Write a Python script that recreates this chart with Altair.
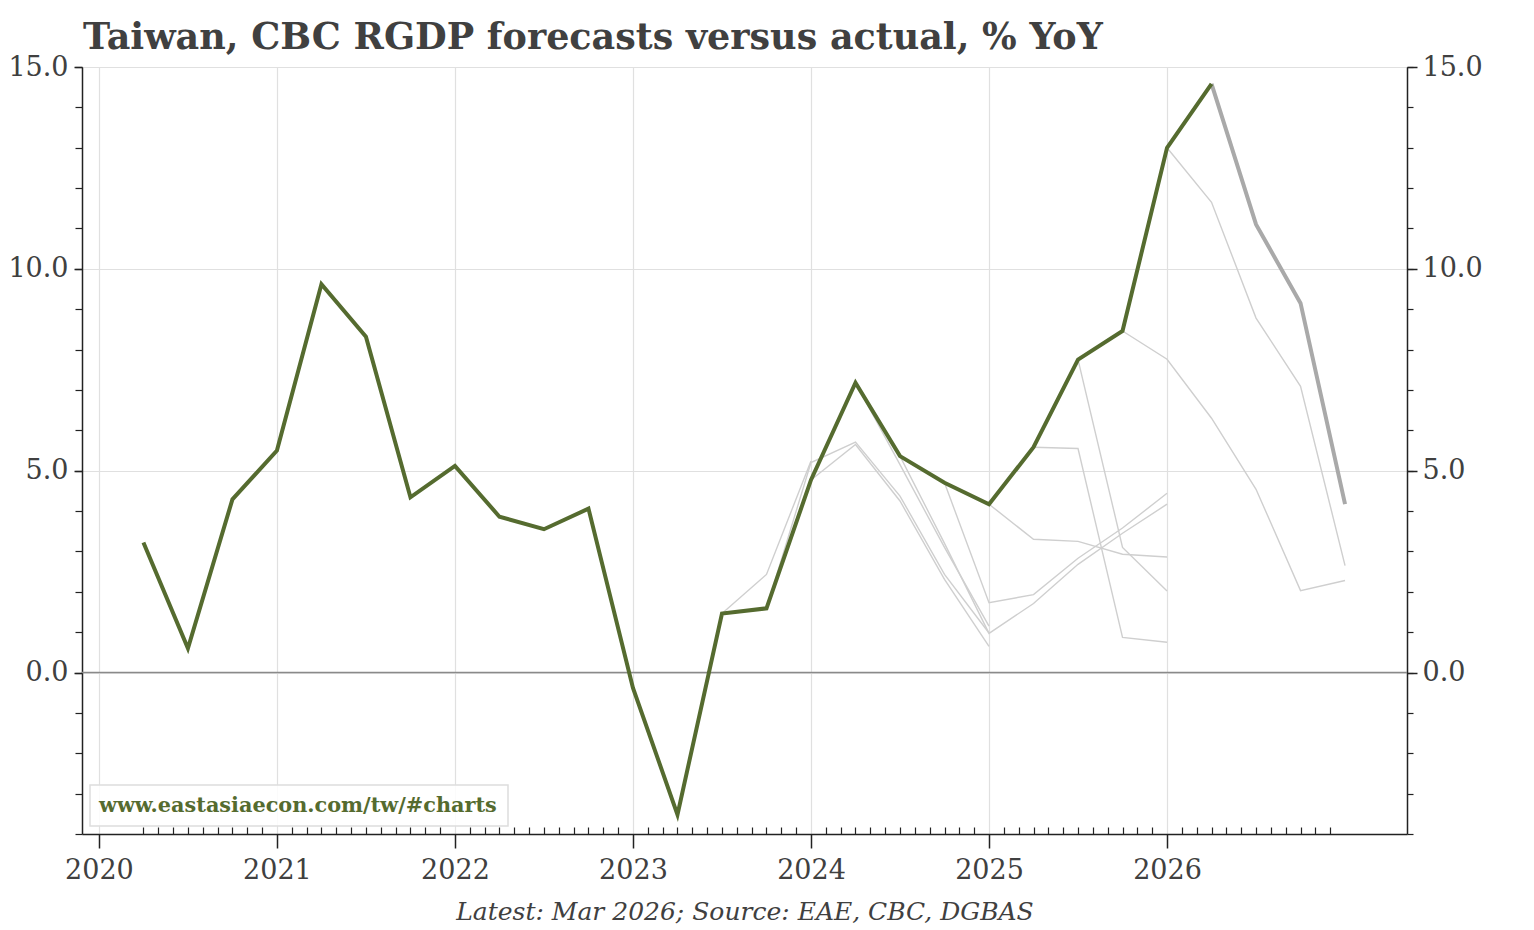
import altair as alt
import pandas as pd

# ---------------- data ----------------
actual_quarters = ["2020Q1", "2020Q2", "2020Q3", "2020Q4",
                   "2021Q1", "2021Q2", "2021Q3", "2021Q4",
                   "2022Q1", "2022Q2", "2022Q3", "2022Q4",
                   "2023Q1", "2023Q2", "2023Q3", "2023Q4",
                   "2024Q1", "2024Q2", "2024Q3", "2024Q4",
                   "2025Q1", "2025Q2", "2025Q3", "2025Q4",
                   "2026Q1"]
actual_values = [3.22, 0.60, 4.29, 5.50,
                 9.62, 8.32, 4.34, 5.12,
                 3.86, 3.55, 4.06, -0.38,
                 -3.52, 1.46, 1.59, 4.77,
                 7.18, 5.36, 4.70, 4.17,
                 5.58, 7.75, 8.46, 13.00,
                 14.58]

# CBC forecast vintages: first value = last actual at time of forecast
fc_2023q2 = [1.46, 2.43, 5.24]
fc_2023q3 = [1.59, 5.20, 5.71, 4.37, 2.43, 0.98]
fc_2023q4 = [4.77, 5.65, 4.25, 2.31, 0.65]
fc_2024q1 = [7.18, 5.15, 3.10, 1.15]
fc_2024q2 = [5.36, 3.20, 0.97, 1.71, 2.68, 3.45, 4.17]
fc_2024q3 = [4.70, 1.73, 1.93, 2.83, 3.58, 4.44]
fc_2024q4 = [4.17, 3.30, 3.25, 2.93, 2.86]
fc_2025q1 = [5.58, 5.55, 0.87, 0.75]
fc_2025q2 = [7.75, 3.10, 2.02]
fc_2025q3 = [8.46, 7.76, 6.30, 4.54, 2.03, 2.28]
fc_2025q4 = [13.00, 11.65, 8.78, 7.09, 2.65]
fc_latest = [14.58, 11.10, 9.15, 4.17]          # latest vintage, from 2026Q1

fc_starts = ["2023Q2", "2023Q3", "2023Q4", "2024Q1", "2024Q2", "2024Q3",
             "2024Q4", "2025Q1", "2025Q2", "2025Q3", "2025Q4"]
fc_series = [fc_2023q2, fc_2023q3, fc_2023q4, fc_2024q1, fc_2024q2, fc_2024q3,
             fc_2024q4, fc_2025q1, fc_2025q2, fc_2025q3, fc_2025q4]
latest_start = "2026Q1"

year_ticks = [2020, 2021, 2022, 2023, 2024, 2025, 2026]
y_major = [0, 5, 10, 15]


def q_to_x(label, offset=0):
    y = int(label[:4])
    q = int(label[5]) + offset
    return y + q / 4.0


actual_df = pd.DataFrame({"x": [q_to_x(q) for q in actual_quarters],
                          "value": actual_values})

rows = []
for start, vals in zip(fc_starts, fc_series):
    for i, v in enumerate(vals):
        rows.append({"x": q_to_x(start, i), "value": v, "vintage": start})
fc_df = pd.DataFrame(rows)
latest_df = pd.DataFrame({"x": [q_to_x(latest_start, i) for i in range(len(fc_latest))],
                          "value": fc_latest})

month_ticks = [2020 + m / 12.0 for m in range(3, 84) if m % 12 != 0]
y_minor = list(range(-4, 16))

# ---------------- style ----------------
W, H = 1325, 767
FONT = "DejaVu Serif"
GREEN = "#556b2f"
TXT = "#404040"
LBL = 27

xscale = alt.Scale(domain=[2019.905, 2027.348], nice=False, zero=False)
yscale = alt.Scale(domain=[-4, 15], nice=False, zero=False)

x_major_axis = alt.Axis(orient="bottom", values=year_ticks, format="d", title=None,
                        labelFont=FONT, labelFontSize=LBL, labelColor=TXT, labelPadding=9,
                        tickSize=14, tickColor="#222", tickWidth=1.5,
                        domainColor="#222", domainWidth=1.5,
                        grid=True, gridColor="#e0e0e0", gridWidth=1.2)
y_left_axis = alt.Axis(orient="left", values=y_major, format=".1f", title=None,
                       labelFont=FONT, labelFontSize=LBL, labelColor=TXT, labelPadding=6,
                       tickSize=8, tickColor="#222", tickWidth=1.5,
                       domainColor="#222", domainWidth=1.5,
                       grid=True, gridColor="#e0e0e0", gridWidth=1.2)
y_right_axis = alt.Axis(orient="right", values=y_major, format=".1f", title=None,
                        labelFont=FONT, labelFontSize=LBL, labelColor=TXT, labelPadding=5,
                        tickSize=10, tickColor="#222", tickWidth=1.5,
                        domainColor="#222", domainWidth=1.5, grid=False)
x_minor_axis = alt.Axis(orient="bottom", values=month_ticks, labels=False, title=None,
                        tickSize=7, offset=-7, tickColor="#222", tickWidth=1.2,
                        domain=False, grid=False)
y_minor_left = alt.Axis(orient="left", values=y_minor, labels=False, title=None,
                        tickSize=7, tickColor="#222", tickWidth=1.2, domain=False, grid=False)
y_minor_right = alt.Axis(orient="right", values=y_minor, labels=False, title=None,
                         tickSize=6, tickColor="#222", tickWidth=1.2, domain=False, grid=False)

# layer: thin forecast lines (carries main axes + grid)
fc_layer = alt.Chart(fc_df).mark_line(color="#cfcfcf", strokeWidth=1.4).encode(
    x=alt.X("x:Q", scale=xscale, axis=x_major_axis),
    y=alt.Y("value:Q", scale=yscale, axis=y_left_axis),
    detail="vintage:N",
)

zero_layer = alt.Chart(pd.DataFrame({"z": [0]})).mark_rule(
    color="#8a8a8a", strokeWidth=1.5).encode(
    y=alt.Y("z:Q", scale=yscale, axis=y_right_axis),
)

latest_layer = alt.Chart(latest_df).mark_line(color="#a9a9a9", strokeWidth=4).encode(
    x=alt.X("x:Q", scale=xscale, axis=x_minor_axis),
    y=alt.Y("value:Q", scale=yscale, axis=y_minor_right),
)

actual_layer = alt.Chart(actual_df).mark_line(color=GREEN, strokeWidth=4).encode(
    x=alt.X("x:Q", scale=xscale, axis=None),
    y=alt.Y("value:Q", scale=yscale, axis=y_minor_left),
)

one = pd.DataFrame({"t": ["x"]})
wm_box = alt.Chart(one).mark_rect(fill="white", fillOpacity=0.85, stroke="#dddddd",
                                  strokeWidth=1.5).encode(
    x=alt.value(8), x2=alt.value(426), y=alt.value(718), y2=alt.value(759))
wm_text = alt.Chart(one).mark_text(text="www.eastasiaecon.com/tw/#charts", font=FONT,
                                   fontSize=20.8, fontWeight="bold", color=GREEN,
                                   align="left", baseline="middle").encode(
    x=alt.value(17), y=alt.value(739))
title = alt.Chart(one).mark_text(text="Taiwan, CBC RGDP forecasts versus actual, % YoY",
                                 font=FONT, fontSize=36.5, fontWeight="bold", color=TXT,
                                 align="left", baseline="alphabetic").encode(
    x=alt.value(1), y=alt.value(-18))
footer = alt.Chart(one).mark_text(text="Latest: Mar 2026; Source: EAE, CBC, DGBAS",
                                  font=FONT, fontSize=25, fontStyle="italic", color=TXT,
                                  align="center", baseline="alphabetic").encode(
    x=alt.value(663), y=alt.value(853))

chart = alt.layer(
    fc_layer, zero_layer, latest_layer, actual_layer, wm_box, wm_text, title, footer
).resolve_axis(x="independent", y="independent").properties(
    width=W, height=H,
    autosize=alt.AutoSizeParams(type="none"),
    padding={"left": 82, "top": 67, "right": 127, "bottom": 96},
    background="white",
).configure_view(stroke=None)

chart.save("out.html", embed_options={"renderer": "svg", "actions": False})
